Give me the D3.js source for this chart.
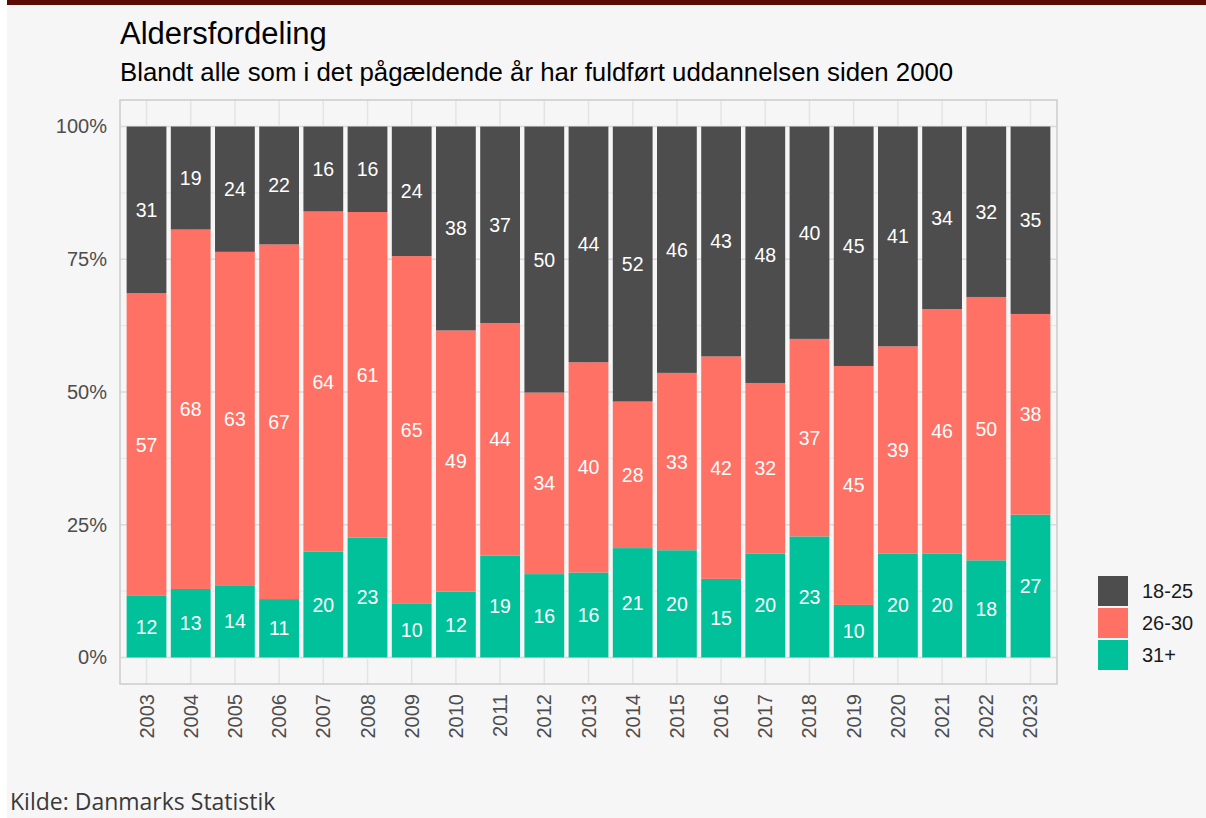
<script src="https://d3js.org/d3.v7.min.js"></script>

<style>
  body { margin: 0; background: #ffffff; }
  svg { display: block; }
</style>

<body>
  <svg id="vis"></svg>
</body>

<script>
  // ---- data (percent of each year's graduates) ----
  var years = ["2003","2004","2005","2006","2007","2008","2009","2010","2011","2012","2013",
               "2014","2015","2016","2017","2018","2019","2020","2021","2022","2023"];
  var age1825 = [31.4,19.4,23.6,22.2,16.0,16.1,24.4,38.4,37.0,50.1,44.4,51.8,46.4,43.3,48.3,40.0,45.1,41.4,34.4,32.1,35.3];
  var age2630 = [57.0,67.7,62.8,66.8,64.1,61.3,65.4,49.2,43.8,34.2,39.6,27.6,33.4,41.9,32.1,37.2,45.0,39.0,46.0,49.6,37.8];
  var age31   = [11.6,12.9,13.6,11.0,19.9,22.6,10.2,12.4,19.2,15.7,16.0,20.6,20.2,14.8,19.6,22.8,9.9,19.6,19.6,18.3,26.9];
  var groups = ["31+", "26-30", "18-25"];          // stacking order, bottom to top
  var legendOrder = ["18-25", "26-30", "31+"];
  var yTicks = [0, 0.25, 0.5, 0.75, 1];
  var yMinor = [0.125, 0.375, 0.625, 0.875];

  var colors = { "18-25": "#4d4d4d", "26-30": "#ff7164", "31+": "#00c19a" };

  var W = 1206, H = 818;
  var panel = { left: 120, right: 1057, top: 100, bottom: 684 };

  var svg = d3.select("#vis")
    .attr("width", W)
    .attr("height", H);

  // page background + dark red top strip
  svg.append("rect").attr("x", 7).attr("y", 0).attr("width", W - 7).attr("height", H).attr("fill", "#f6f6f6");
  svg.append("rect").attr("x", 7).attr("y", 0).attr("width", W - 7).attr("height", 5).attr("fill", "#5c0a06");

  // table for stacking
  var rows = years.map(function(y, i) {
    return { year: y, "18-25": age1825[i], "26-30": age2630[i], "31+": age31[i] };
  });
  var series = d3.stack().keys(groups).offset(d3.stackOffsetExpand)(rows);

  // scales
  var x = d3.scaleBand()
    .domain(years)
    .range([panel.left, panel.right])
    .paddingInner(0.1)
    .paddingOuter(0.15);

  var y = d3.scaleLinear()
    .domain([-0.05, 1.05])
    .range([panel.bottom, panel.top]);

  // grid
  var grid = svg.append("g");
  grid.selectAll(".minor")
    .data(yMinor)
    .enter().append("line")
    .attr("x1", panel.left).attr("x2", panel.right)
    .attr("y1", function(d){ return y(d) }).attr("y2", function(d){ return y(d) })
    .attr("stroke", "#e6e6e6").attr("stroke-width", 1);
  grid.selectAll(".major")
    .data(yTicks)
    .enter().append("line")
    .attr("x1", panel.left).attr("x2", panel.right)
    .attr("y1", function(d){ return y(d) }).attr("y2", function(d){ return y(d) })
    .attr("stroke", "#dadada").attr("stroke-width", 1.5);
  grid.selectAll(".vgrid")
    .data(years)
    .enter().append("line")
    .attr("x1", function(d){ return x(d) + x.bandwidth() / 2 })
    .attr("x2", function(d){ return x(d) + x.bandwidth() / 2 })
    .attr("y1", panel.top).attr("y2", panel.bottom)
    .attr("stroke", "#e4e4e4").attr("stroke-width", 1.5);

  // bars
  var layers = svg.selectAll(".layer")
    .data(series)
    .enter().append("g")
    .attr("fill", function(d){ return colors[d.key] });

  layers.selectAll("rect")
    .data(function(d){ return d })
    .enter().append("rect")
    .attr("x", function(d){ return x(d.data.year) })
    .attr("y", function(d){ return y(d[1]) })
    .attr("width", x.bandwidth())
    .attr("height", function(d){ return y(d[0]) - y(d[1]) });

  // value labels in the middle of each segment
  series.forEach(function(s) {
    svg.append("g").selectAll("text")
      .data(s)
      .enter().append("text")
      .attr("x", function(d){ return x(d.data.year) + x.bandwidth() / 2 })
      .attr("y", function(d){ return y((d[0] + d[1]) / 2) })
      .attr("text-anchor", "middle")
      .attr("dominant-baseline", "central")
      .attr("font-family", "Liberation Sans, Arial, sans-serif")
      .attr("font-size", 19.5)
      .attr("fill", "#ffffff")
      .text(function(d){ return Math.round(d.data[s.key]) });
  });

  // panel border
  svg.append("rect")
    .attr("x", panel.left).attr("y", panel.top)
    .attr("width", panel.right - panel.left).attr("height", panel.bottom - panel.top)
    .attr("fill", "none").attr("stroke", "#cccccc").attr("stroke-width", 1.5);

  // y axis labels
  var yAxis = d3.axisLeft(y)
    .tickValues(yTicks)
    .tickFormat(d3.format(".0%"))
    .tickSize(0)
    .tickPadding(13);
  var gy = svg.append("g")
    .attr("transform", "translate(" + panel.left + ",0)")
    .call(yAxis);
  gy.select(".domain").remove();
  gy.selectAll("text")
    .attr("font-family", "Liberation Sans, Arial, sans-serif")
    .attr("font-size", 20)
    .attr("fill", "#4d4d4d");

  // x axis labels (rotated)
  var xAxis = d3.axisBottom(x).tickSize(0);
  var gx = svg.append("g")
    .attr("transform", "translate(0," + panel.bottom + ")")
    .call(xAxis);
  gx.select(".domain").remove();
  gx.selectAll("text")
    .attr("font-family", "Liberation Sans, Arial, sans-serif")
    .attr("font-size", 20)
    .attr("fill", "#4d4d4d")
    .attr("transform", "rotate(-90)")
    .attr("text-anchor", "end")
    .attr("dominant-baseline", "central")
    .attr("x", -10)
    .attr("y", 0)
    .attr("dy", null);

  // legend
  var legend = svg.append("g").attr("transform", "translate(1098,576)");
  var lg = legend.selectAll("g")
    .data(legendOrder)
    .enter().append("g")
    .attr("transform", function(d, i){ return "translate(0," + (i * 32) + ")" });
  lg.append("rect")
    .attr("width", 30).attr("height", 30)
    .attr("fill", function(d){ return colors[d] });
  lg.append("text")
    .attr("x", 44).attr("y", 15)
    .attr("dominant-baseline", "central")
    .attr("font-family", "Liberation Sans, Arial, sans-serif")
    .attr("font-size", 20)
    .attr("fill", "#1a1a1a")
    .text(function(d){ return d });

  // titles
  svg.append("text")
    .attr("x", 120).attr("y", 44)
    .attr("font-family", "Liberation Sans, Arial, sans-serif")
    .attr("font-size", 31)
    .attr("fill", "#000000")
    .text("Aldersfordeling");
  svg.append("text")
    .attr("x", 120).attr("y", 81)
    .attr("font-family", "Liberation Sans, Arial, sans-serif")
    .attr("font-size", 25.8)
    .attr("fill", "#000000")
    .text("Blandt alle som i det pågældende år har fuldført uddannelsen siden 2000");

  // source (kept just inside the bottom edge)
  svg.append("text")
    .attr("x", 10).attr("y", 810)
    .attr("font-family", "Open Sans, sans-serif")
    .attr("font-size", 23)
    .attr("fill", "#3a3a3a")
    .text("Kilde: Danmarks Statistik");
</script>
